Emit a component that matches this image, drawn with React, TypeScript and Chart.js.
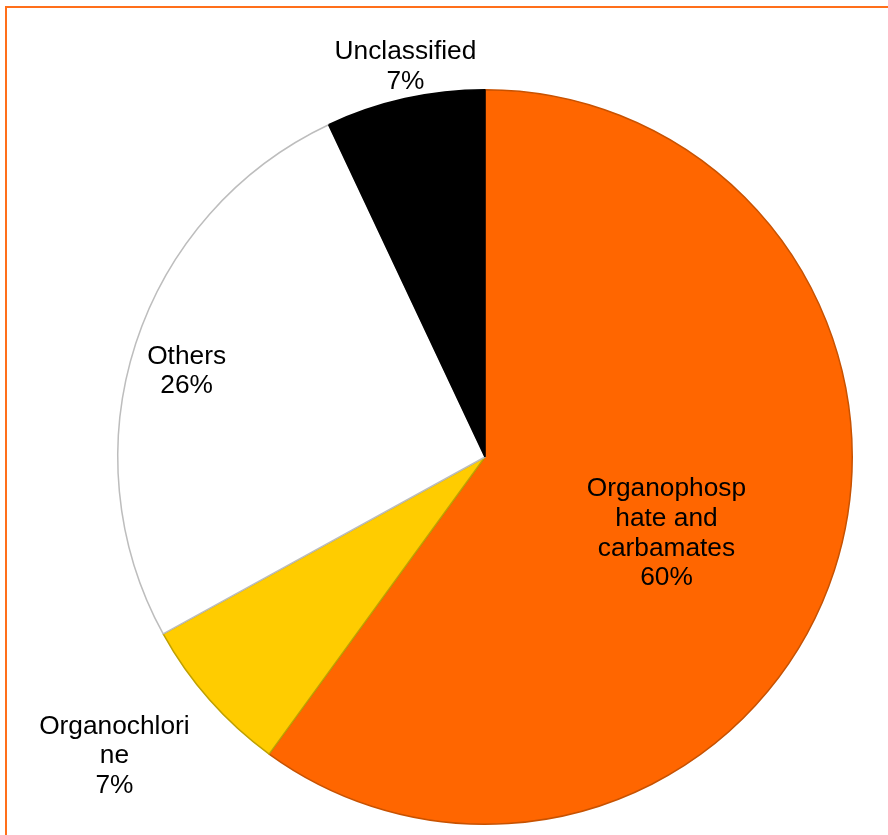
import React, { useEffect, useRef } from "react";
import { Chart, registerables } from "chart.js";

Chart.register(...registerables);

const categories = ["Organophosphate and carbamates", "Organochlorine", "Others", "Unclassified"];
const labelLines = [
  ["Organophosp", "hate and", "carbamates", "60%"],
  ["Organochlori", "ne", "7%"],
  ["Others", "26%"],
  ["Unclassified", "7%"],
];
const values = [60, 7, 26, 7];
const fillColors = ["#FF6600", "#FFCC00", "#FFFFFF", "#000000"];
const edgeColors = ["#C85200", "#BFA000", "#BDBDBD", "#000000"];
const labelRadiusFactor = [0.534, 1.293, 0.847, 1.091];
const labelAngleShiftDeg = [4.3, 2.7, -1.6, 1.15];

const labelPlugin = {
  id: "sliceLabels",
  afterDatasetsDraw(chart: any) {
    const ctx = chart.ctx;
    const meta = chart.getDatasetMeta(0);
    const fs = 26.3;
    const lh = 29.6;
    ctx.save();
    ctx.font = `${fs}px "Liberation Sans", Arial, sans-serif`;
    ctx.fillStyle = "#000000";
    ctx.textAlign = "center";
    ctx.textBaseline = "alphabetic";
    meta.data.forEach((arc: any, i: number) => {
      const { x, y, startAngle, endAngle, outerRadius } = arc.getProps(
        ["x", "y", "startAngle", "endAngle", "outerRadius"],
        true
      );
      const mid = (startAngle + endAngle) / 2 + (labelAngleShiftDeg[i] * Math.PI) / 180;
      const r = outerRadius * labelRadiusFactor[i];
      const cx = x + Math.cos(mid) * r;
      const cy = y + Math.sin(mid) * r;
      const lines = labelLines[i];
      const top = cy - ((lines.length - 1) * lh) / 2;
      lines.forEach((t, k) => ctx.fillText(t, cx, top + k * lh + 0.358 * fs));
    });
    ctx.restore();
  },
};

export default function App() {
  const ref = useRef<HTMLCanvasElement>(null);
  useEffect(() => {
    if (!ref.current) return;
    const chart = new Chart(ref.current, {
      type: "pie",
      data: {
        labels: categories,
        datasets: [
          {
            data: values,
            backgroundColor: fillColors,
            borderColor: edgeColors,
            borderWidth: 1.5,
          },
        ],
      },
      options: {
        responsive: false,
        animation: false,
        devicePixelRatio: 1,
        layout: { padding: { left: 117, top: 89, right: 35, bottom: 10 } },
        plugins: {
          legend: { display: false },
          tooltip: { enabled: false },
        },
      },
      plugins: [labelPlugin],
    });
    return () => chart.destroy();
  }, []);
  return (
    <div
      style={{
        position: "fixed",
        left: 0,
        top: 0,
        width: 888,
        height: 835,
        overflow: "hidden",
        background: "#ffffff",
      }}
    >
      <div
        style={{
          position: "absolute",
          left: 5,
          top: 6,
          width: 1000,
          height: 1000,
          border: "2px solid #FF6F1A",
          boxSizing: "border-box",
        }}
      />
      <canvas
        ref={ref}
        width={888}
        height={835}
        style={{ position: "absolute", left: 0, top: 0, width: 888, height: 835 }}
      />
    </div>
  );
}
